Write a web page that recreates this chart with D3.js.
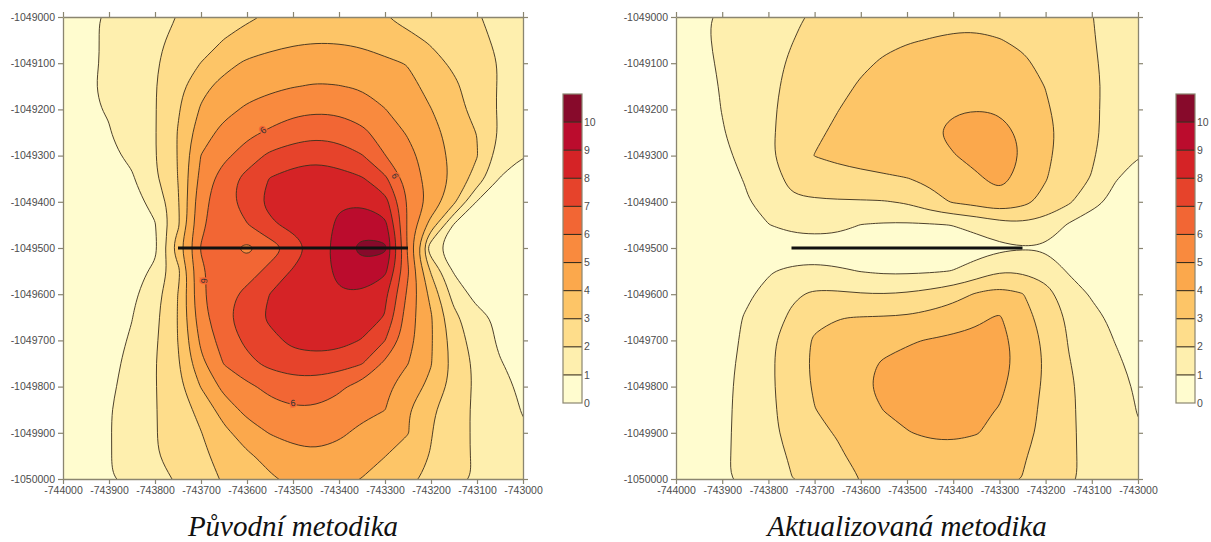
<!DOCTYPE html>
<html>
<head>
<meta charset="utf-8">
<script src="https://cdn.jsdelivr.net/npm/d3@7"></script>
<style>
  body { margin: 0; background: #fff; }
  svg { display: block; }
</style>
</head>
<body>
<div id="chart"></div>
<script>
// grid nodes (50 m step), rows go from north (top) to south
const eastings = [-744000,-743950,-743900,-743850,-743800,-743750,-743700,-743650,-743600,-743550,-743500,
  -743450,-743400,-743350,-743300,-743250,-743200,-743150,-743100,-743050,-743000]
const northings = [-1049000,-1049050,-1049100,-1049150,-1049200,-1049250,-1049300,-1049350,-1049400,-1049450,-1049500,
  -1049550,-1049600,-1049650,-1049700,-1049750,-1049800,-1049850,-1049900,-1049950,-1050000]

const xTicks = [-744000,-743900,-743800,-743700,-743600,-743500,-743400,-743300,-743200,-743100,-743000]
const yTicks = [-1049000,-1049100,-1049200,-1049300,-1049400,-1049500,-1049600,-1049700,-1049800,-1049900,-1050000]

const levels = [1,2,3,4,5,6,7,8,9,10]
const legendValues = [0,1,2,3,4,5,6,7,8,9,10,11]

// "Původní metodika"
const puvodni = [
  [0.4,0.8,1.15,1.45,1.75,2.02,2.28,2.58,2.87,3.1,3.3,3.4,3.35,3.2,3.02,2.75,2.5,2.25,2.05,1.8,1.6],
  [0.45,0.8,1.15,1.5,1.85,2.2,2.6,3.02,3.35,3.6,3.8,3.9,3.88,3.75,3.5,3.2,2.9,2.55,2.2,1.85,1.55],
  [0.5,0.8,1.15,1.5,1.9,2.45,3.02,3.7,4.15,4.4,4.6,4.7,4.65,4.5,4.2,3.95,3.3,2.85,2.4,1.95,1.5],
  [0.5,0.85,1.2,1.55,1.95,2.7,3.75,4.3,4.6,4.8,4.97,5.05,5.02,4.9,4.65,4.3,3.7,3.15,2.6,1.9,1.4],
  [0.55,0.9,1.05,1.6,1.95,2.9,4.1,4.7,5.15,5.45,5.75,5.85,5.8,5.55,5.02,4.55,4.02,3.4,2.6,1.88,1.3],
  [0.55,0.9,0.95,1.55,1.95,3.05,4.55,5.3,5.75,6.15,6.5,6.7,6.6,6.2,5.6,4.9,4.3,3.65,2.98,1.9,1.2],
  [0.5,0.8,0.85,1.15,1.95,3.05,5.02,5.75,6.5,7.2,7.55,7.75,7.5,7.05,6.02,5.3,4.5,3.75,3.05,1.55,1.02],
  [0.45,0.75,0.8,0.9,1.85,3.02,5.3,6.55,7.3,8.05,8.4,8.5,8.4,8.1,7.2,5.6,4.6,3.8,2.55,0.95,0.6],
  [0.4,0.65,0.75,0.78,1.2,2.9,5.7,6.6,7.5,8.3,8.7,8.9,8.95,8.9,8.4,5.9,4.7,3.2,0.95,0.5,0.3],
  [0.3,0.5,0.6,0.7,0.95,2.8,5.85,6.5,6.95,7.8,8.35,8.7,9.1,9.5,9.3,5.8,3.6,0.9,0.3,0.15,0.1],
  [0.1,0.1,0.15,0.3,0.75,3.7,6.05,6.35,5.75,6.5,7.3,8.45,9.4,10.35,10.25,5.8,1.3,0.3,0.1,0.05,0.0],
  [0.25,0.4,0.5,0.6,1.2,2.7,5.9,6.35,6.5,7.3,8.1,8.6,9.2,9.6,9.25,6.1,2.9,0.9,0.35,0.2,0.1],
  [0.3,0.5,0.6,0.8,1.6,3.02,5.85,6.6,7.3,8.02,8.55,8.8,8.95,8.9,8.2,5.8,3.7,1.6,0.65,0.45,0.3],
  [0.35,0.55,0.7,0.98,1.75,3.05,5.6,6.8,7.5,8.2,8.6,8.75,8.7,8.5,7.95,5.45,4.1,2.25,1.3,0.8,0.55],
  [0.35,0.6,0.75,1.08,1.85,3.02,5.2,6.5,7.2,7.7,8.25,8.4,8.35,7.95,7.02,5.35,4.1,2.55,1.5,0.85,0.6],
  [0.4,0.65,0.8,1.2,1.95,2.9,4.75,6.05,6.75,7.25,7.55,7.6,7.45,7.05,5.8,5.02,4.05,2.7,1.75,1.05,0.7],
  [0.4,0.7,0.85,1.3,1.95,2.7,4.05,5.3,5.8,6.25,6.5,6.5,6.15,5.65,5.2,4.55,3.75,2.65,1.8,1.3,0.8],
  [0.4,0.7,0.95,1.35,1.95,2.5,3.3,4.45,5.3,5.7,5.9,5.9,5.7,5.25,5.02,4.05,3.15,2.45,1.8,1.35,0.95],
  [0.4,0.7,0.95,1.4,1.95,2.45,2.97,3.75,4.5,5.05,5.3,5.35,5.15,4.8,4.4,4.05,3.05,2.35,1.85,1.45,1.1],
  [0.4,0.7,0.95,1.4,1.93,2.4,2.82,3.3,3.85,4.3,4.7,4.85,4.7,4.45,4.02,3.5,2.95,2.35,1.85,1.5,1.15],
  [0.4,0.7,0.95,1.3,1.7,2.1,2.6,3.1,3.5,3.88,4.2,4.35,4.3,3.97,3.55,3.2,2.8,2.35,1.9,1.55,1.2]
]

// "Aktualizovaná metodika"
const aktualizovana = [
  [0.6,0.85,1.15,1.4,1.6,1.88,2.1,2.3,2.45,2.6,2.7,2.78,2.82,2.82,2.78,2.65,2.5,2.3,2.02,1.75,1.5],
  [0.6,0.85,1.15,1.45,1.7,1.97,2.25,2.5,2.7,2.85,2.95,3.02,3.08,3.1,3.02,2.9,2.7,2.45,2.05,1.75,1.45],
  [0.55,0.8,1.1,1.45,1.75,2.1,2.4,2.65,2.88,3.08,3.25,3.38,3.45,3.45,3.35,3.1,2.85,2.5,2.1,1.75,1.4],
  [0.5,0.75,1.05,1.45,1.8,2.2,2.5,2.8,3.08,3.3,3.5,3.65,3.75,3.78,3.7,3.4,2.98,2.6,2.15,1.75,1.35],
  [0.45,0.7,1.02,1.4,1.83,2.3,2.65,2.98,3.28,3.5,3.7,3.85,3.95,3.99,3.95,3.6,3.1,2.65,2.15,1.7,1.3],
  [0.4,0.65,0.95,1.35,1.85,2.35,2.85,3.15,3.4,3.6,3.75,3.92,4.15,4.3,4.2,3.9,3.2,2.7,2.2,1.6,1.2],
  [0.35,0.6,0.8,1.25,1.85,2.45,3.02,3.2,3.35,3.5,3.65,3.8,3.97,4.2,4.3,3.95,3.15,2.65,2.1,1.5,1.02],
  [0.3,0.5,0.7,1.05,1.65,2.2,2.5,2.65,2.75,2.85,2.97,3.2,3.5,3.9,4.2,3.8,3.05,2.5,1.95,1.05,0.7],
  [0.25,0.45,0.6,0.9,1.4,1.9,1.9,1.92,1.93,1.95,2.1,2.65,3.1,3.35,3.75,3.3,2.7,2.15,1.3,0.75,0.5],
  [0.2,0.35,0.5,0.75,0.98,1.35,1.45,1.35,0.98,0.9,0.88,0.92,1.02,1.25,1.6,1.8,1.6,0.9,0.5,0.3,0.2],
  [0.05,0.05,0.1,0.15,0.2,0.3,0.35,0.35,0.35,0.35,0.35,0.4,0.5,0.6,0.8,0.95,0.9,0.4,0.15,0.05,0.0],
  [0.2,0.3,0.45,0.65,0.92,1.2,1.3,1.15,0.97,0.85,0.85,0.9,1.02,1.4,1.95,1.9,1.7,0.9,0.55,0.35,0.25],
  [0.25,0.45,0.6,0.85,1.25,1.85,2.15,2.15,2.05,2.02,2.1,2.3,2.6,3.1,3.4,3.05,2.3,1.55,0.9,0.6,0.4],
  [0.3,0.5,0.7,1.05,1.55,2.15,2.8,2.97,3.02,3.05,3.1,3.3,3.6,3.85,4.08,3.4,2.6,1.85,1.25,0.8,0.5],
  [0.3,0.55,0.75,1.1,1.75,2.5,3.1,3.35,3.55,3.75,3.92,4.05,4.15,4.2,4.18,3.75,2.75,1.95,1.4,0.98,0.6],
  [0.3,0.55,0.8,1.15,1.8,2.55,3.15,3.5,3.8,4.08,4.22,4.3,4.3,4.25,4.15,3.85,2.85,2.05,1.55,1.15,0.75],
  [0.35,0.6,0.82,1.2,1.8,2.5,3.1,3.5,3.9,4.15,4.25,4.3,4.25,4.15,4.12,3.7,2.8,2.15,1.6,1.25,0.9],
  [0.35,0.6,0.85,1.2,1.75,2.45,2.98,3.35,3.7,4.02,4.12,4.18,4.15,4.08,3.98,3.45,2.75,2.15,1.65,1.3,0.97],
  [0.35,0.6,0.87,1.2,1.7,2.35,2.85,3.05,3.4,3.75,3.98,4.08,4.1,4.03,3.85,3.35,2.7,2.15,1.7,1.35,1.05],
  [0.35,0.6,0.88,1.2,1.65,2.1,2.55,2.9,3.2,3.45,3.65,3.78,3.8,3.72,3.5,3.1,2.6,2.15,1.72,1.4,1.1],
  [0.35,0.6,0.9,1.2,1.6,1.98,2.35,2.7,3.01,3.25,3.4,3.5,3.5,3.42,3.22,2.98,2.55,2.15,1.75,1.45,1.15]
]

// the line source drawn in black
const lineEast = [-743750, -743250]
const lineNorth = [-1049500, -1049500]

// contour labels of the first map
const labelText = ["6", "6", "6", "6"]
const labelEast = [-743565, -743278, -743693, -743500]
const labelNorth = [-1049245, -1049344, -1049571, -1049835]
const labelAngle = [-40, 65, 95, -5]

const bandColors = ['#FFFCCF','#FEEFAE','#FEDD8B','#FDC567','#FBA84C','#F98A3E','#F26634',
  '#E6432B','#D52326','#BB0C2D','#870A2B']

const W = 1211, H = 542
const svg = d3.select("#chart").append("svg")
  .attr("width", W).attr("height", H)
  .style("font-family", "'Liberation Sans', Arial, sans-serif")

const panels = [
  {id: "p1", grid: puvodni, left: 63, right: 523, top: 17, bottom: 479, legendX: 563,
   caption: "Původní metodika", labels: true},
  {id: "p2", grid: aktualizovana, left: 676, right: 1138, top: 17, bottom: 479, legendX: 1176,
   caption: "Aktualizovaná metodika", labels: false}
]

const axisColor = "#8a8570"
const textColor = "#4d4d4d"

function drawPanel(p) {
  const x = d3.scaleLinear().domain([xTicks[0], xTicks[xTicks.length - 1]]).range([p.left, p.right])
  const y = d3.scaleLinear().domain([yTicks[0], yTicks[yTicks.length - 1]]).range([p.top, p.bottom])

  const nx = eastings.length, ny = northings.length
  const dE = eastings[1] - eastings[0], dN = northings[1] - northings[0]
  // contour coords: node i sits at i + 0.5
  const toPx = pt => [x(eastings[0] + (pt[0] - 0.5) * dE), y(northings[0] + (pt[1] - 0.5) * dN)]

  const polys = d3.contours().size([nx, ny]).thresholds(levels)(p.grid.flat())
  const curve = d3.line().curve(d3.curveBasisClosed)
  const pathFor = mp => mp.coordinates
    .map(poly => poly.map(ring => curve(ring.slice(0, -1).map(toPx))).join(""))
    .join("")

  svg.append("clipPath").attr("id", "clip-" + p.id)
    .append("rect")
    .attr("x", p.left).attr("y", p.top)
    .attr("width", p.right - p.left).attr("height", p.bottom - p.top)

  const g = svg.append("g").attr("clip-path", `url(#clip-${p.id})`)

  g.append("rect")
    .attr("x", p.left).attr("y", p.top)
    .attr("width", p.right - p.left).attr("height", p.bottom - p.top)
    .attr("fill", bandColors[0])

  g.selectAll("path.band")
    .data(polys)
    .join("path")
      .attr("class", "band")
      .attr("d", pathFor)
      .attr("fill", d => bandColors[levels.indexOf(d.value) + 1])
      .attr("fill-rule", "evenodd")

  g.selectAll("path.iso")
    .data(polys)
    .join("path")
      .attr("class", "iso")
      .attr("d", pathFor)
      .attr("fill", "none")
      .attr("stroke", "#3a2e1c")
      .attr("stroke-width", 0.9)

  // line source
  g.append("line")
    .attr("x1", x(lineEast[0])).attr("y1", y(lineNorth[0]))
    .attr("x2", x(lineEast[1])).attr("y2", y(lineNorth[1]))
    .attr("stroke", "#111").attr("stroke-width", 3)

  if (p.labels) {
    labelText.forEach((t, i) => {
      const lx = x(labelEast[i]), ly = y(labelNorth[i])
      g.append("text")
        .attr("transform", `translate(${lx},${ly}) rotate(${labelAngle[i]})`)
        .attr("text-anchor", "middle")
        .attr("dy", "0.35em")
        .attr("font-size", 9)
        .attr("fill", "#333")
        .attr("stroke", bandColors[6])
        .attr("stroke-width", 3)
        .attr("paint-order", "stroke")
        .text(t)
    })
  }

  // axes on all four sides
  const fmt = d => String(d)
  const styleAxis = sel => {
    sel.selectAll(".domain").attr("stroke", axisColor).attr("stroke-width", 1.3)
    sel.selectAll(".tick line").attr("stroke", axisColor).attr("stroke-width", 1.2)
    sel.selectAll(".tick text").attr("fill", textColor).attr("font-size", 10.5)
  }
  svg.append("g").attr("transform", `translate(0,${p.bottom})`)
    .call(d3.axisBottom(x).tickValues(xTicks).tickFormat(fmt).tickSize(5).tickSizeOuter(0))
    .call(styleAxis)
  svg.append("g").attr("transform", `translate(${p.left},0)`)
    .call(d3.axisLeft(y).tickValues(yTicks).tickFormat(fmt).tickSize(5).tickSizeOuter(0))
    .call(styleAxis)
  svg.append("g").attr("transform", `translate(0,${p.top})`)
    .call(d3.axisTop(x).tickValues(xTicks).tickFormat("").tickSize(5).tickSizeOuter(0))
    .call(styleAxis)
  svg.append("g").attr("transform", `translate(${p.right},0)`)
    .call(d3.axisRight(y).tickValues(yTicks).tickFormat("").tickSize(5).tickSizeOuter(0))
    .call(styleAxis)

  // colour legend
  const ly = d3.scaleLinear().domain([0, 11]).range([403, 94])
  const lw = 19
  const lg = svg.append("g")
  lg.selectAll("rect.band")
    .data(legendValues.slice(0, -1))
    .join("rect")
      .attr("x", p.legendX)
      .attr("y", d => ly(d + 1))
      .attr("width", lw)
      .attr("height", d => ly(d) - ly(d + 1))
      .attr("fill", d => bandColors[d])
  lg.selectAll("line.sep")
    .data(levels)
    .join("line")
      .attr("x1", p.legendX).attr("x2", p.legendX + lw)
      .attr("y1", d => ly(d)).attr("y2", d => ly(d))
      .attr("stroke", "#3a2e1c").attr("stroke-width", 1.1)
  lg.append("rect")
    .attr("x", p.legendX).attr("y", ly(11))
    .attr("width", lw).attr("height", ly(0) - ly(11))
    .attr("fill", "none").attr("stroke", axisColor).attr("stroke-width", 1.2)
  lg.selectAll("text")
    .data(legendValues.slice(0, -1))
    .join("text")
      .attr("x", p.legendX + lw + 2)
      .attr("y", d => ly(d))
      .attr("dy", "0.35em")
      .attr("font-size", 10.5)
      .attr("fill", textColor)
      .text(d => d)

  // caption
  svg.append("text")
    .attr("x", (p.left + p.right) / 2)
    .attr("y", 536)
    .attr("text-anchor", "middle")
    .style("font-family", "'Liberation Serif', 'Times New Roman', serif")
    .style("font-style", "italic")
    .attr("font-size", 29)
    .attr("fill", "#111")
    .text(p.caption)
}

panels.forEach(drawPanel)
</script>
</body>
</html>
